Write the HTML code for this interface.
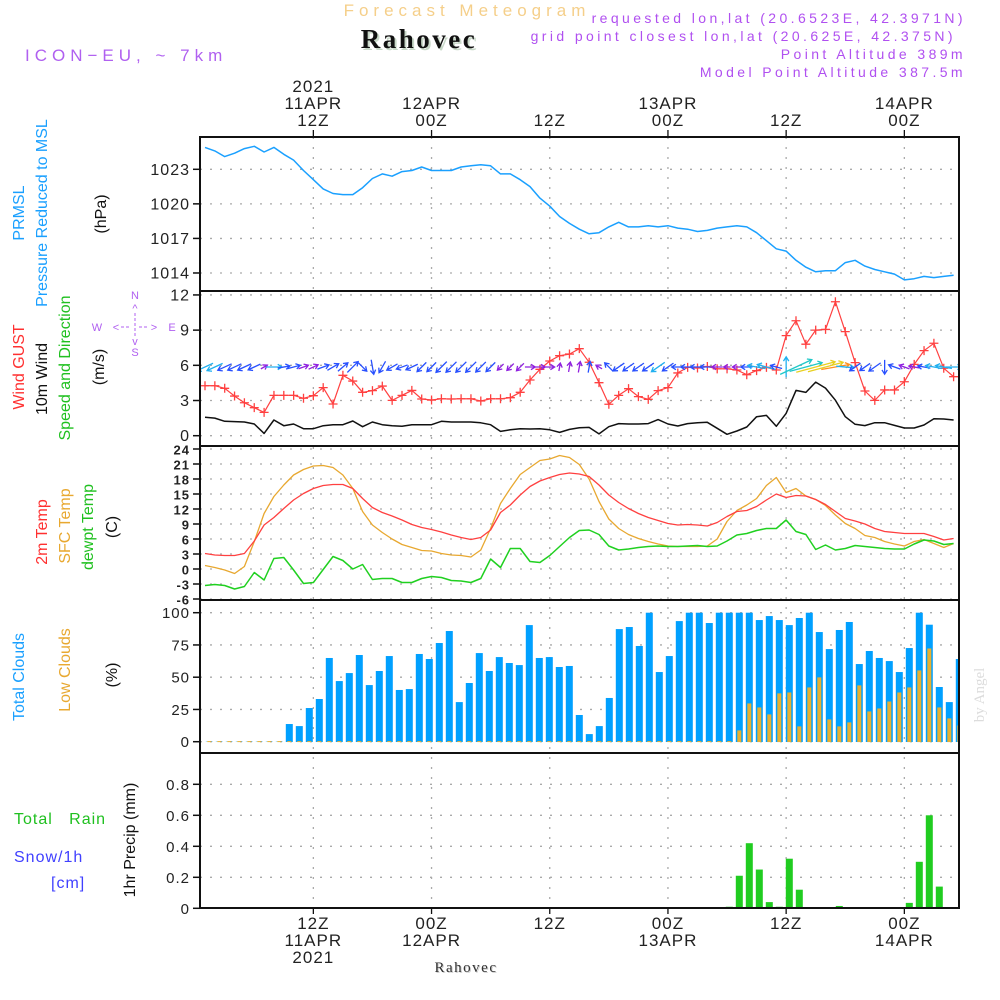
<!DOCTYPE html>
<html><head><meta charset="utf-8"><style>
body{margin:0;background:#fff;}
svg{display:block;font-family:"Liberation Sans",sans-serif;}
</style></head><body>
<svg id="c" width="1000" height="1000" viewBox="0 0 1000 1000" xmlns="http://www.w3.org/2000/svg">
<defs><clipPath id="plotclip"><rect x="200" y="137" width="759" height="772"/></clipPath></defs>
<text x="467" y="16" text-anchor="middle" font-size="17" fill="#f5cf8a" letter-spacing="5">Forecast Meteogram</text>
<text x="421" y="50" text-anchor="middle" font-size="27" font-weight="bold" font-family="Liberation Serif, serif" fill="#c8d8c8" letter-spacing="2.5">Rahovec</text>
<text x="419" y="48" text-anchor="middle" font-size="27" font-weight="bold" font-family="Liberation Serif, serif" fill="#111" letter-spacing="2.5">Rahovec</text>
<text x="25" y="61" font-size="17" fill="#b060f0" letter-spacing="5">ICON−EU, ~ 7km</text>
<g font-size="14" fill="#b050f0" text-anchor="end" letter-spacing="3.4">
<text x="966" y="23">requested lon,lat (20.6523E, 42.3971N)</text>
<text x="956" y="41">grid point closest lon,lat (20.625E, 42.375N)</text>
<text x="966" y="59">Point Altitude 389m</text>
<text x="966" y="77">Model Point Altitude 387.5m</text>
</g>
<g id="labels" font-size="16">
<text transform="translate(24,213) rotate(-90)" text-anchor="middle" fill="#1aa0ff">PRMSL</text>
<text transform="translate(47,213) rotate(-90)" text-anchor="middle" fill="#1aa0ff">Pressure Reduced to MSL</text>
<text transform="translate(106,214) rotate(-90)" text-anchor="middle" fill="#111">(hPa)</text>
<text transform="translate(24,367) rotate(-90)" text-anchor="middle" fill="#ff3030">Wind GUST</text>
<text transform="translate(47,379) rotate(-90)" text-anchor="middle" fill="#111">10m Wind</text>
<text transform="translate(70,368) rotate(-90)" text-anchor="middle" fill="#20c020">Speed and Direction</text>
<text transform="translate(104,367) rotate(-90)" text-anchor="middle" fill="#111">(m/s)</text>
<g fill="#b060f0" font-size="11" text-anchor="middle">
<text x="97" y="331">W</text><text x="172" y="331">E</text>
<text x="135" y="299">N</text><text x="135" y="356">S</text>
<text x="116" y="331">&lt;</text><text x="154" y="331">&gt;</text>
<text x="135" y="312">^</text><text x="135" y="345">v</text>
<line x1="121" y1="327" x2="131" y2="327" stroke="#b060f0" stroke-width="1" stroke-dasharray="3,2"/>
<line x1="139" y1="327" x2="149" y2="327" stroke="#b060f0" stroke-width="1" stroke-dasharray="3,2"/>
<line x1="135" y1="313" x2="135" y2="337" stroke="#b060f0" stroke-width="1" stroke-dasharray="3,2"/>
</g>
<text transform="translate(47,532) rotate(-90)" text-anchor="middle" fill="#ff3030">2m Temp</text>
<text transform="translate(70,526) rotate(-90)" text-anchor="middle" fill="#e8a830">SFC Temp</text>
<text transform="translate(93,527) rotate(-90)" text-anchor="middle" fill="#20c020">dewpt Temp</text>
<text transform="translate(117,527) rotate(-90)" text-anchor="middle" fill="#111">(C)</text>
<text transform="translate(24,677) rotate(-90)" text-anchor="middle" fill="#1aa0ff">Total Clouds</text>
<text transform="translate(70,670) rotate(-90)" text-anchor="middle" fill="#e8a830">Low Clouds</text>
<text transform="translate(117,675) rotate(-90)" text-anchor="middle" fill="#111">(%)</text>
<text x="14" y="824" fill="#20c020" letter-spacing="1" xml:space="preserve" style="white-space:pre">Total   Rain</text>
<text x="14" y="862" fill="#4040ff" letter-spacing="1">Snow/1h</text>
<text x="51" y="888" fill="#4040ff" letter-spacing="1">[cm]</text>
<text transform="translate(135,840) rotate(-90)" text-anchor="middle" fill="#111">1hr Precip (mm)</text>
</g>
<text transform="translate(984,695) rotate(-90)" text-anchor="middle" font-size="15" font-family="Liberation Serif, serif" fill="#dcdcdc">by Angel</text>
<text x="467" y="973" text-anchor="middle" font-size="15" font-family="Liberation Serif, serif" fill="#ccc" letter-spacing="1.5">Rahovec</text>
<text x="466" y="972" text-anchor="middle" font-size="15" font-family="Liberation Serif, serif" fill="#333" letter-spacing="1.5">Rahovec</text>
<g id="grid"></g><g id="marks" clip-path="url(#plotclip)"></g><g id="axes"></g>
</svg>
<script>
const pressure=[1024.9,1024.6,1024.1,1024.4,1024.8,1025.0,1024.5,1024.9,1024.3,1023.8,1022.9,1022.1,1021.3,1020.9,1020.8,1020.8,1021.4,1022.2,1022.6,1022.4,1022.8,1022.9,1023.2,1022.9,1022.9,1022.9,1023.2,1023.3,1023.4,1023.3,1022.6,1022.6,1022.1,1021.5,1020.5,1019.8,1018.9,1018.3,1017.8,1017.4,1017.5,1018.0,1018.4,1018.0,1018.0,1018.1,1018.0,1018.1,1017.9,1017.8,1017.6,1017.7,1017.9,1018.0,1018.1,1018.0,1017.5,1016.8,1016.1,1015.9,1015.1,1014.5,1014.1,1014.2,1014.2,1014.9,1015.1,1014.6,1014.3,1014.1,1013.9,1013.4,1013.5,1013.7,1013.6,1013.7,1013.8];
const windSpeed=[1.57,1.5,1.23,1.2,1.17,1.0,0.2,1.34,0.85,1.0,0.6,0.6,0.85,0.94,0.94,1.25,0.77,1.17,0.94,0.85,0.8,0.94,0.94,0.94,1.23,1.17,1.17,1.17,1.1,0.94,0.37,0.5,0.6,0.57,0.6,0.5,0.28,0.54,0.68,0.71,0.15,0.77,1.03,1.0,1.0,1.03,1.37,1.0,0.83,1.03,1.11,1.14,0.63,0.12,0.4,0.74,1.62,1.73,0.8,1.9,3.86,3.69,4.57,4.06,3.03,1.62,0.97,0.86,1.11,1.11,0.88,0.66,0.66,0.91,1.45,1.42,1.34];
const windDir=[205,205,205,205,205,205,30,0,10,15,20,25,20,30,40,45,315,280,240,210,200,205,225,225,225,225,225,225,225,225,225,225,225,0,0,0,80,80,80,80,150,135,215,215,215,215,215,215,180,180,180,180,180,180,180,180,170,165,165,90,25,15,15,15,10,355,215,215,215,270,160,160,170,170,170,170,0];
const gust=[4.26,4.26,4.04,3.38,2.81,2.39,1.99,3.44,3.44,3.44,3.19,3.41,4.1,2.7,5.15,4.66,3.7,3.84,4.23,3.01,3.44,3.86,3.13,3.04,3.15,3.13,3.15,3.15,2.96,3.15,3.15,3.24,3.7,4.75,5.66,6.37,6.82,6.96,7.42,6.26,4.52,2.68,3.44,4.01,3.33,3.1,3.84,4.1,5.35,5.83,5.77,5.9,5.7,5.7,5.6,5.2,5.55,5.83,5.6,8.53,9.8,7.8,9.0,9.06,11.42,8.87,6.23,3.81,3.01,3.9,3.9,4.6,6.08,7.25,7.88,5.75,5.03];
const temp2m=[3.1,2.8,2.7,2.7,3.1,5.6,8.8,10.3,12.1,13.8,15.1,16.1,16.7,16.9,16.9,16.1,14.1,12.3,11.3,10.6,9.8,8.9,8.3,7.9,7.4,6.8,6.3,5.9,6.3,7.8,11.3,12.8,14.8,16.5,17.6,18.3,18.9,19.2,19.0,18.5,16.8,14.8,13.3,12.1,11.1,10.3,9.7,9.1,8.8,8.9,8.8,8.6,9.3,10.5,11.5,11.7,12.5,13.8,15.0,14.3,14.7,14.6,13.9,12.9,11.5,10.1,9.6,9.0,8.1,7.5,7.3,7.1,7.1,7.1,6.5,5.8,6.1];
const sfcTemp=[0.7,0.3,-0.2,-0.9,0.5,5.5,11.1,14.5,16.8,18.8,19.9,20.6,20.7,20.3,18.8,16.1,11.5,8.8,7.3,6.0,4.9,4.3,3.7,3.6,3.1,2.8,2.7,2.4,3.8,8.1,13.1,16.1,18.9,20.3,21.7,22.0,22.7,22.3,20.9,18.0,13.5,10.0,8.1,6.9,6.1,5.5,5.0,4.6,4.5,4.5,4.5,4.6,6.0,9.5,11.7,12.8,14.1,16.7,18.3,15.3,16.1,14.6,13.9,12.7,10.8,9.1,8.1,6.7,6.3,5.5,5.0,4.6,5.5,5.9,5.1,4.3,5.1];
const dewpt=[-3.3,-3.1,-3.3,-4.0,-3.5,-0.7,-2.2,2.1,2.3,-0.2,-2.9,-2.7,-0.1,2.5,1.7,0.0,0.9,-2.1,-1.9,-1.9,-2.7,-2.7,-1.9,-1.5,-1.7,-2.3,-2.4,-2.7,-1.9,2.0,0.3,4.1,4.1,1.5,1.3,2.7,4.5,6.3,7.7,7.8,6.9,4.6,3.8,4.0,4.3,4.5,4.6,4.5,4.5,4.6,4.7,4.5,4.6,5.6,6.8,7.1,7.7,8.1,8.1,9.8,7.5,6.9,3.9,4.8,3.8,4.1,4.7,4.5,4.3,4.1,4.0,4.0,5.0,5.8,5.6,4.9,5.1];
const totalClouds=[0,0,0,0,0,0,0,0,13.7,12.1,26.1,33.1,64.9,47.0,53.2,67.2,43.9,54.8,66.4,40.1,40.8,68.0,64.1,76.5,85.8,30.7,45.5,68.7,54.8,65.6,61.0,59.4,90.4,64.9,65.6,57.9,58.7,20.7,5.9,12.1,33.9,87.3,88.9,74.2,100,54,66.4,93.5,100,100,92,100,100,100,100,94.3,97.4,94.3,90.4,95.9,100,85,71.8,86.6,92.8,60.2,70.3,64.9,62.5,54,72.6,100,90.7,42.4,30.7,64.1];
const lowClouds=[0,0,0,0,0,0,0,0,0,0,0,0,0,0,0,0,0,0,0,0,0,0,0,0,0,0,0,0,0,0,0,0,0,0,0,0,0,0,0,0,0,0,0,0,0,0,0,0,0,0,0,0,0,8.3,29.2,26.1,20.7,37,37.7,11.4,41.6,49.4,16.8,11.4,14.5,43.2,23,25.3,30.7,37.7,41.6,54.8,71.8,26.1,17.6,12.1];
const precip=[0,0,0,0,0,0,0,0,0,0,0,0,0,0,0,0,0,0,0,0,0,0,0,0,0,0,0,0,0,0,0,0,0,0,0,0,0,0,0,0,0,0,0,0,0,0,0,0,0,0,0,0,0.01,0.21,0.42,0.25,0.04,0.01,0.32,0.12,0,0,0,0.015,0,0,0,0,0,0,0.035,0.30,0.60,0.14,0,0];
const pTicks=[1023,1020,1017,1014];
const wTicks=[12,9,6,3,0];
const tTicks=[24,21,18,15,12,9,6,3,0,-3,-6];
const cTicks=[100,75,50,25,0];
const rTicks=[0.8,0.6,0.4,0.2,0];
const timeTickHours=[11,23,35,47,59,71];
const timeTop=[["2021","11APR","12Z"],["","12APR","00Z"],["","","12Z"],["","13APR","00Z"],["","","12Z"],["","14APR","00Z"]];
const timeBottom=[["12Z","11APR","2021"],["00Z","12APR",""],["12Z","",""],["00Z","13APR",""],["12Z","",""],["00Z","14APR",""]];

const NS="http://www.w3.org/2000/svg";
const xT=i=>205+9.85*i;
const xB=i=>209.3+10*i;
const yP=v=>169.3+(1023-v)*11.52;
const yW=v=>435.7-v*11.73;
const yT=v=>569-v*5;
const yC=v=>741.7-v*1.29;
const yR=v=>908.3-v*155;
const grid=document.getElementById('grid'),marks=document.getElementById('marks'),axes=document.getElementById('axes');
function mk(tag,attrs,parent){const e=document.createElementNS(NS,tag);for(const k in attrs)e.setAttribute(k,attrs[k]);parent.appendChild(e);return e;}
function line(x1,y1,x2,y2,st,sw,parent,dash){const e=mk('line',{x1,y1,x2,y2,stroke:st,'stroke-width':sw},parent);if(dash)e.setAttribute('stroke-dasharray',dash);return e;}
function txt(x,y,s,parent,anchor,size,fill){const e=mk('text',{x,y,'text-anchor':anchor||'end','font-size':size||16,fill:fill||'#222','letter-spacing':'1'},parent);e.textContent=s;return e;}
function poly(arr,sy,color,w,name){const p=mk('polyline',{points:arr.map((v,i)=>xT(i).toFixed(1)+','+sy(v).toFixed(1)).join(' '),fill:'none',stroke:color,'stroke-width':w,'stroke-linejoin':'round'},marks);

return p;}

const panels=[[137,291],[291,446],[446,600],[600,753],[753,908]];
function hgrid(ticks,sy,size,bold){ticks.forEach(t=>{const y=sy(t);
const g=line(200,y,959,y,'#aaa',1.3,grid,'2,8');


line(193,y,200,y,'#111',1.5,axes);
const l=txt(190,y+5.5,String(t),axes,'end',size,'#222');if(bold)l.setAttribute('font-weight','bold');

});}
hgrid(pTicks,yP,16);hgrid(wTicks,yW,16);hgrid(tTicks,yT,13,true);hgrid(cTicks,yC,15);hgrid(rTicks,yR,15);
timeTickHours.forEach((h,k)=>{const x=xT(h);
const g=line(x,137,x,908,'#aaa',1.3,grid,'2,8');


line(x,130,x,137,'#111',1.3,axes);line(x,908,x,914,'#111',1.3,axes);
timeTop[k].forEach((s,j)=>{if(s){const t=txt(x,92+j*17,s,axes,'middle',17,'#222');

}});
timeBottom[k].forEach((s,j)=>{if(s){const t=txt(x,929+j*17,s,axes,'middle',17,'#222');

}});});
panels.forEach(p=>{const r=mk('rect',{x:200,y:p[0],width:759,height:p[1]-p[0],fill:'none',stroke:'#111','stroke-width':2},axes);

});

poly(pressure,yP,'#1aa0ff',1.5,'pressure-line');
poly(windSpeed,yW,'#111',1.5,'wind-speed-line');
poly(gust,yW,'#ff4040',1.2,'gust-line');
gust.forEach((v,i)=>{const x=xT(i),y=yW(v);const g=mk('path',{d:`M${x-4.5},${y}H${x+4.5}M${x},${y-4.5}V${y+4.5}`,stroke:'#ff4040','stroke-width':1.3},marks);

});
function wcol(s){return s<0.7?'#9020e0':s<1.3?'#2850ff':s<2?'#20b0f0':s<3.5?'#ff9020':s<3.9?'#20c8c8':'#e8d020';}
windSpeed.forEach((s,i)=>{const a=windDir[i]*Math.PI/180,L=6+7.5*s,cx=xT(i),cy=367;
const dx=Math.cos(a)*L/2,dy=-Math.sin(a)*L/2;const x2=cx+dx,y2=cy+dy;
const h1=a+Math.PI*0.82,h2=a-Math.PI*0.82;
const c=wcol(s);
const g=mk('path',{d:`M${cx-dx},${cy-dy}L${x2},${y2}M${x2+Math.cos(h1)*5},${y2-Math.sin(h1)*5}L${x2},${y2}L${x2+Math.cos(h2)*5},${y2-Math.sin(h2)*5}`,stroke:c,'stroke-width':1.3,fill:'none'},marks);

});
poly(sfcTemp,yT,'#e8a830',1.3,'sfc-temp-line');
poly(temp2m,yT,'#ff4040',1.3,'temp-2m-line');
poly(dewpt,yT,'#20d020',1.5,'dewpoint-line');
totalClouds.forEach((v,i)=>{const y=yC(v);const r=mk('rect',{x:xB(i)-3.5,y:y,width:7,height:Math.max(0,yC(0)-y)+0.3,fill:'#00a0ff'},marks);

});
lowClouds.forEach((v,i)=>{const y=yC(v);const r=mk('rect',{x:xB(i)-2,y:y-0.6,width:4,height:Math.max(0,yC(0)-y)+1,fill:'#e8b030'},marks);

});
precip.forEach((v,i)=>{if(v<=0)return;const y=yR(v);const r=mk('rect',{x:xB(i)-3.5,y:y,width:7,height:yR(0)-y,fill:'#20cc20'},marks);

});
line(200,yR(0)-0.5,959,yR(0)-0.5,'#444',1,marks,'4,2');
</script>
</body></html>
